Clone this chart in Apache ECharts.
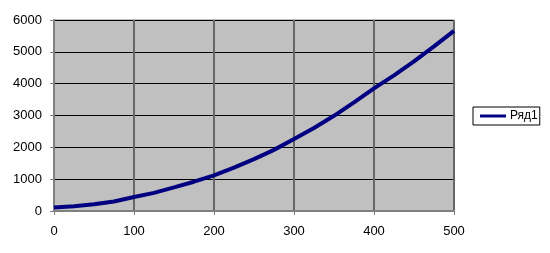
<!DOCTYPE html>
<html>
<head>
<meta charset="utf-8">
<script src="https://cdn.jsdelivr.net/npm/echarts@6/dist/echarts.min.js"></script>
<style>
html,body{margin:0;padding:0;background:#fff;}
#c{width:550px;height:253px;}
</style>
</head>
<body>
<div id="c"></div>
<script>
const seriesName = 'Ряд1';
const xValues = [0, 25, 50, 75, 100, 125, 150, 175, 200, 225, 250, 275, 300, 325, 350, 375, 400, 425, 450, 475, 500];
const yValues = [110, 150, 210, 300, 440, 570, 740, 920, 1120, 1360, 1630, 1920, 2260, 2610, 2990, 3410, 3850, 4260, 4700, 5170, 5660];

const chart = echarts.init(document.getElementById('c'), null, {renderer: 'canvas'});
const font = 'Liberation Sans, Arial, sans-serif';
chart.setOption({
  animation: false,
  textStyle: {fontFamily: font},
  grid: {left: 54, right: 96, top: 20, bottom: 42, show: true, backgroundColor: '#C0C0C0', borderColor: '#808080', borderWidth: 1},
  legend: {
    left: 473, top: 107, orient: 'vertical',
    borderColor: '#000', borderWidth: 1, backgroundColor: '#fff',
    padding: [3, 2, 3, 7], itemWidth: 26, itemHeight: 3, itemGap: 5,
    icon: 'rect',
    textStyle: {fontFamily: font, fontSize: 12, color: '#000', padding: [0, 0, 0, -1]},
    data: [seriesName]
  },
  xAxis: {
    type: 'value', min: 0, max: 500, interval: 100,
    axisLine: {show: true, onZero: false, lineStyle: {color: '#808080', width: 2}},
    axisTick: {show: true, length: 4, lineStyle: {color: '#808080', width: 1}},
    axisLabel: {fontFamily: font, fontSize: 13, color: '#000', margin: 14, formatter: v => String(v)},
    splitLine: {show: true, lineStyle: {color: '#666', width: 2}}
  },
  yAxis: {
    type: 'value', min: 0, max: 6000, interval: 1000,
    axisLine: {show: true, lineStyle: {color: '#808080', width: 2}},
    axisTick: {show: true, length: 4, lineStyle: {color: '#808080', width: 1}},
    axisLabel: {fontFamily: font, fontSize: 13, color: '#000', margin: 12, formatter: v => String(v)},
    splitLine: {show: true, lineStyle: {color: '#000', width: 1}}
  },
  series: [{
    name: seriesName,
    type: 'line',
    data: xValues.map((x, i) => [x, yValues[i]]),
    showSymbol: false,
    symbol: 'none',
    lineStyle: {color: '#000080', width: 4},
    itemStyle: {color: '#000080'}
  }]
});
</script>
</body>
</html>
